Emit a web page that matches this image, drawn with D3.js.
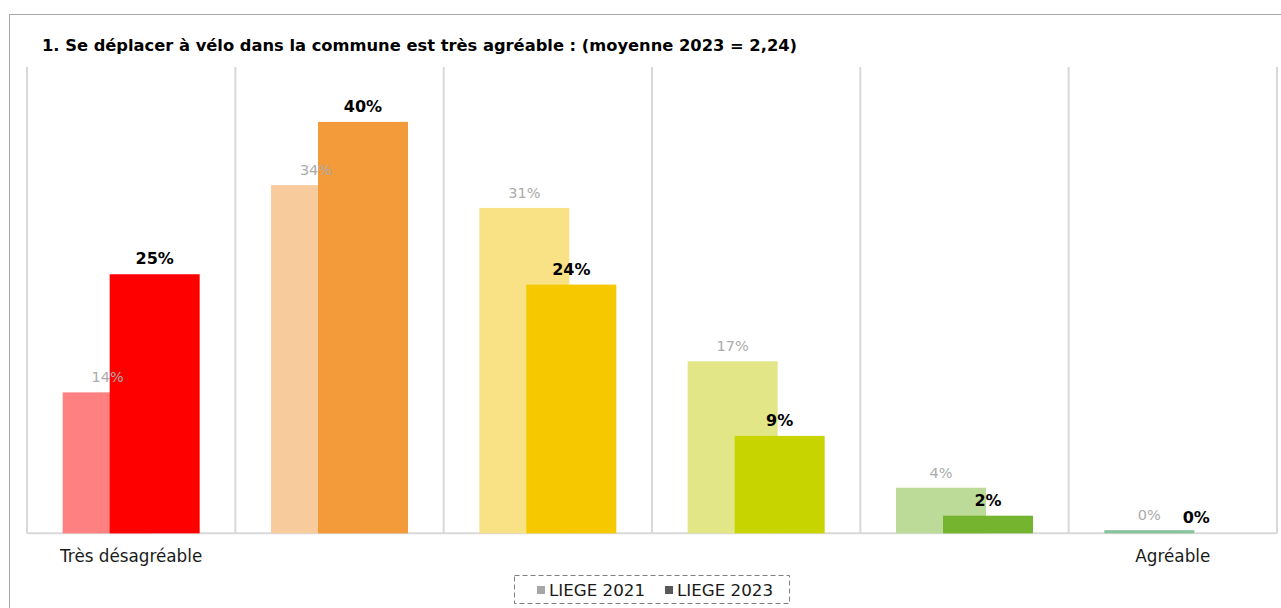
<!DOCTYPE html>
<html>
<head>
<meta charset="utf-8">
<script src="https://cdn.jsdelivr.net/npm/d3@7"></script>
<style>
  html, body { margin: 0; padding: 0; background: #fff; }
  svg { display: block; }
  text { font-family: "DejaVu Sans", Verdana, sans-serif; }
</style>
</head>
<body>
<svg id="chart" width="1281" height="608"></svg>
<script>
// Survey answers, from "Très désagréable" (1) to "Agréable" (6)
const categories = ["1", "2", "3", "4", "5", "6"];
const categoryLabels = ["Très désagréable", "", "", "", "", "Agréable"];
const seriesNames = ["LIEGE 2021", "LIEGE 2023"];
const values2021 = [13.6, 33.6, 31.4, 16.6, 4.4, 0.3];
const values2023 = [25.0, 39.7, 24.0, 9.4, 1.7, 0.0];
const colors2021 = ["#ff8080", "#f8cb9c", "#f9e285", "#e2e687", "#bddb98", "#86c29a"];
const colors2023 = ["#ff0000", "#f39a3a", "#f5c800", "#c8d400", "#74b42e", "#5aa86e"];
const legendColors = ["#a6a6a6", "#595959"];
const yMax = 45;

const svg = d3.select("#chart");

// Outer frame
svg.append("rect")
  .attr("x", 9.5).attr("y", 14.5)
  .attr("width", 1290).attr("height", 620)
  .attr("fill", "none").attr("stroke", "#a6a6a6").attr("stroke-width", 1);

// Title
svg.append("text")
  .attr("x", 42).attr("y", 51)
  .attr("font-size", 16).attr("font-weight", "bold").attr("fill", "#000")
  .attr("textLength", 755).attr("lengthAdjust", "spacingAndGlyphs")
  .text("1. Se déplacer à vélo dans la commune est très agréable : (moyenne 2023 = 2,24)");

const plot = { left: 27, right: 1277, top: 67, bottom: 533.3 };

const x = d3.scaleBand().domain(categories).range([plot.left, plot.right]).padding(0);
const y = d3.scaleLinear().domain([0, yMax]).range([plot.bottom, plot.top]);

const bw = x.bandwidth();
const barW = bw * 0.432;
const shift = bw * 0.1128;

// Vertical separators between categories
const bounds = categories.map(c => x(c)).concat([plot.right]);
svg.append("g").selectAll("line").data(bounds).join("line")
  .attr("x1", d => d).attr("x2", d => d)
  .attr("y1", plot.top).attr("y2", plot.bottom)
  .attr("stroke", "#d9d9d9").attr("stroke-width", 2);

// Category axis line
svg.append("line")
  .attr("x1", plot.left).attr("x2", plot.right)
  .attr("y1", plot.bottom).attr("y2", plot.bottom)
  .attr("stroke", "#d9d9d9").attr("stroke-width", 2);

const series = [
  { name: seriesNames[0], values: values2021, colors: colors2021, dx: -shift },
  { name: seriesNames[1], values: values2023, colors: colors2023, dx: shift }
];

const center = c => x(c) + bw / 2;

// Bars (2023 drawn over 2021)
series.forEach(s => {
  svg.append("g").selectAll("rect").data(categories).join("rect")
    .attr("x", (c) => center(c) + s.dx - barW / 2)
    .attr("y", (c, i) => y(s.values[i]))
    .attr("width", barW)
    .attr("height", (c, i) => plot.bottom - y(s.values[i]))
    .attr("fill", (c, i) => s.colors[i]);
});

const pct = v => d3.format(".0f")(v) + "%";

// Value labels
svg.append("g").selectAll("text").data(categories).join("text")
  .attr("x", c => center(c) - shift)
  .attr("y", (c, i) => y(values2021[i]) - 10)
  .attr("text-anchor", "middle").attr("font-size", 14.5).attr("fill", "#ababab")
  .text((c, i) => pct(values2021[i]));

svg.append("g").selectAll("text").data(categories).join("text")
  .attr("x", c => center(c) + shift)
  .attr("y", (c, i) => y(values2023[i]) - 10)
  .attr("text-anchor", "middle").attr("font-size", 16).attr("font-weight", "bold").attr("fill", "#000")
  .text((c, i) => pct(values2023[i]));

// Category labels (only the two ends of the scale)
svg.append("g").selectAll("text").data(categories).join("text")
  .attr("x", c => center(c))
  .attr("y", 562)
  .attr("text-anchor", "middle").attr("font-size", 16.8).attr("fill", "#1a1a1a")
  .text((c, i) => categoryLabels[i]);

// Legend
const lg = svg.append("g");
lg.append("rect")
  .attr("x", 514.5).attr("y", 575.5).attr("width", 275).attr("height", 28)
  .attr("fill", "none").attr("stroke", "#7f7f7f").attr("stroke-dasharray", "5,3");
const legendX = [537, 665];
seriesNames.forEach((n, i) => {
  lg.append("rect")
    .attr("x", legendX[i]).attr("y", 586).attr("width", 8).attr("height", 8)
    .attr("fill", legendColors[i]);
  lg.append("text")
    .attr("x", legendX[i] + 12).attr("y", 596)
    .attr("font-size", 16.7).attr("fill", "#1a1a1a")
    .text(n);
});
</script>
</body>
</html>
